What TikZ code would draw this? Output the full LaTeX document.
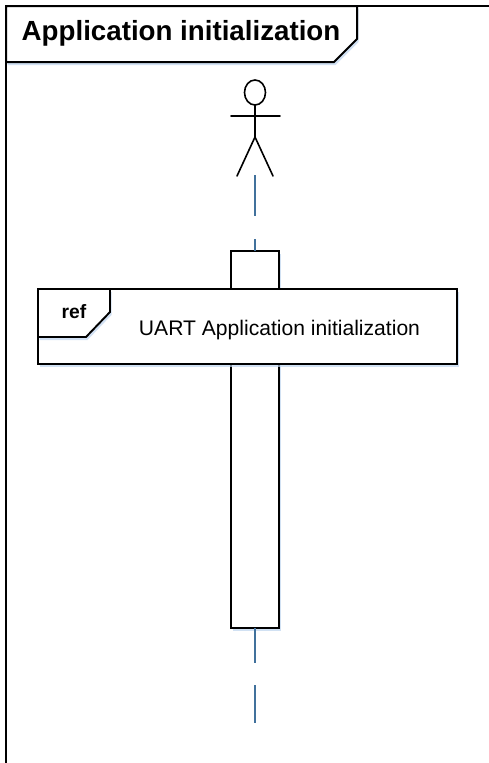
\documentclass[tikz,border=0pt]{standalone}
\usepackage{fontspec}
\setmainfont{Liberation Sans}
\usetikzlibrary{shadows,shapes.geometric}
\definecolor{lifeblue}{RGB}{65,113,156}
\definecolor{glow}{RGB}{190,212,238}
\tikzset{
  x=1pt,y=-1pt,
  glowshadow/.style={drop shadow={shadow xshift=1.5pt,shadow yshift=-3pt,fill=glow,opacity=.7}},
  outline/.style={draw=black,line width=1.9pt,line join=miter},
  umlbox/.style={outline,fill=white,glowshadow,inner sep=0pt,outer sep=0pt,anchor=north west},
  lifeline/.style={draw=lifeblue,line width=2.2pt},
  stick/.style={draw=black,line width=1.6pt,line cap=round},
  titletext/.style={font=\fontsize{27.7}{32}\selectfont\bfseries,inner sep=0pt},
  reftag/.style={font=\fontsize{19.3}{23}\selectfont\bfseries,inner sep=0pt},
  reftext/.style={font=\fontsize{21.1}{25}\selectfont,inner sep=0pt}
}
\begin{document}
\begin{tikzpicture}
\useasboundingbox (0,0) rectangle (489,763);
% outer frame
\draw[outline,line width=2pt] (489,6) -- (6,6) -- (6,763);
\path[outline,line width=2pt,fill=white,glowshadow] (6,6) -- (357,6) -- (357,39) -- (334,62) -- (6,62) -- cycle;
\node[titletext] (title) at (181,33) {Application initialization};
% actor
\node[draw=black,line width=1.6pt,ellipse,minimum width=21pt,minimum height=25pt,inner sep=0pt,outer sep=0pt] (head) at (255,92.5) {};
\coordinate (hip) at (255,137);
\coordinate (armL) at (231,116);
\coordinate (armR) at (280,116);
\coordinate (legL) at (237,176);
\coordinate (legR) at (273,176);
\draw[stick] (head.south) -- (hip);
\draw[stick] (armL) -- (armR);
\draw[stick] (legL) -- (hip) -- (legR);
% lifeline segments
\coordinate (d1a) at (255,175);
\coordinate (d1b) at (255,216);
\coordinate (d2a) at (255,239);
\coordinate (d3b) at (255,663);
\coordinate (d4a) at (255,685);
\coordinate (d4b) at (255,723);
% activation bar
\node[umlbox,minimum width=48pt,minimum height=377pt] (act) at (231,251) {};
\draw[lifeline] (d1a) -- (d1b);
\draw[lifeline] (d2a) -- (act.north);
\draw[lifeline] (act.south) -- (d3b);
\draw[lifeline] (d4a) -- (d4b);
% ref box
\node[umlbox,minimum width=419pt,minimum height=75pt] (refbox) at (38,289) {};
\path[outline,fill=white,glowshadow] (38,289) -- (110,289) -- (110,312) -- (86,337) -- (38,337) -- cycle;
\node[reftag] (reflabel) at (74,312) {ref};
\node[reftext] (refname) at (279.5,330) {UART Application initialization};
\end{tikzpicture}
\end{document}
